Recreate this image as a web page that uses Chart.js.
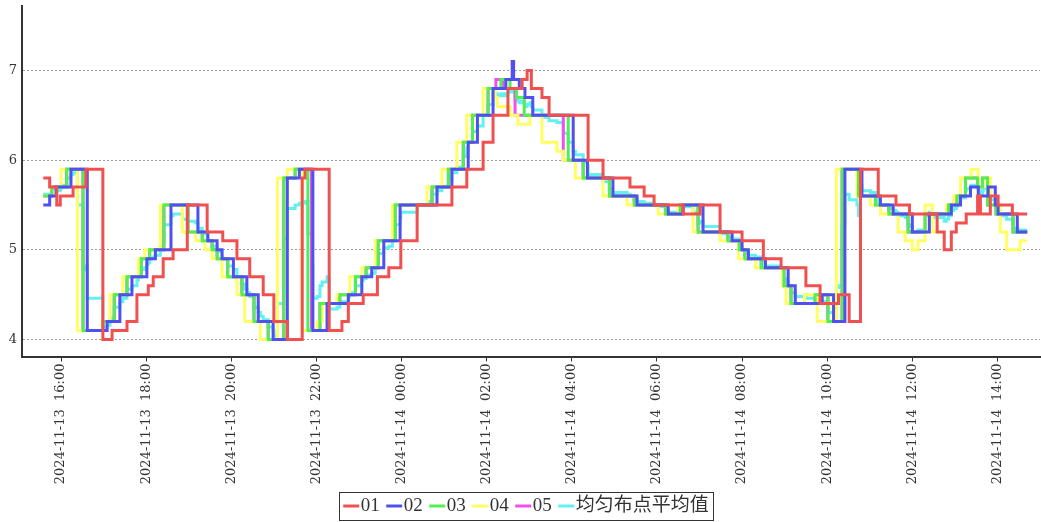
<!DOCTYPE html>
<html>
<head>
<meta charset="utf-8">
<script src="https://cdn.jsdelivr.net/npm/chart.js@4.4.1/dist/chart.umd.min.js"></script>
<style>
  html, body { margin: 0; padding: 0; background: #fff; }
</style>
</head>
<body>
<canvas id="chart" width="1041" height="522"></canvas>
<script>
// readings, [time, value] at each step change; times before 15:00 belong to 2024-11-14
const s01 = [['15:35',5.8],['15:44',5.7],['15:54',5.5],['15:59',5.6],['16:17',5.7],['16:35',5.9],['16:59',4.0],['17:12',4.1],['17:33',4.2],['17:47',4.5],['18:03',4.6],['18:10',4.7],['18:24',4.9],['18:38',5.0],['18:58',5.5],['19:26',5.2],['19:48',5.1],['20:08',4.9],['20:26',4.7],['20:45',4.5],['21:00',4.2],['21:19',4.0],['21:40',5.8],['21:44',5.9],['22:18',4.1],['22:36',4.2],['22:45',4.4],['23:06',4.5],['23:26',4.7],['23:42',4.8],['23:59',5.1],['00:22',5.5],['01:11',5.7],['01:32',5.9],['01:55',6.2],['02:09',6.5],['02:30',6.8],['02:50',6.9],['02:57',7.0],['03:03',6.8],['03:18',6.7],['03:28',6.5],['04:23',6.0],['04:44',5.8],['05:22',5.7],['05:42',5.6],['05:56',5.5],['06:37',5.4],['07:01',5.5],['07:29',5.2],['08:00',5.1],['08:30',4.9],['08:55',4.8],['09:30',4.6],['09:50',4.4],['10:16',4.5],['10:31',4.2],['10:47',5.9],['11:12',5.6],['11:37',5.5],['11:56',5.4],['12:35',5.2],['12:45',5.0],['12:55',5.2],['13:02',5.3],['13:16',5.4],['13:32',5.6],['13:36',5.4],['13:50',5.6],['14:01',5.5],['14:21',5.4],['14:42',5.4]];
const s02 = [['15:35',5.5],['15:44',5.6],['15:53',5.7],['16:14',5.9],['16:37',4.1],['17:05',4.2],['17:23',4.5],['17:40',4.7],['18:01',4.9],['18:13',5.0],['18:35',5.5],['19:13',5.2],['19:27',5.1],['19:40',5.0],['19:47',4.9],['20:03',4.7],['20:22',4.5],['20:38',4.2],['20:59',4.0],['21:19',5.8],['21:36',5.9],['21:55',4.1],['22:15',4.4],['22:45',4.5],['23:04',4.7],['23:18',4.8],['23:35',5.1],['23:58',5.5],['00:50',5.7],['01:11',5.9],['01:34',6.2],['01:47',6.5],['02:09',6.8],['02:27',6.9],['02:36',7.1],['02:38',6.9],['02:46',6.8],['02:54',6.7],['03:05',6.5],['04:02',6.0],['04:22',5.8],['04:58',5.6],['05:32',5.5],['06:16',5.4],['06:37',5.5],['07:05',5.2],['07:46',5.1],['08:00',5.0],['08:09',4.9],['08:33',4.8],['09:05',4.6],['09:15',4.4],['09:53',4.5],['10:09',4.2],['10:25',5.9],['10:49',5.6],['11:15',5.5],['11:33',5.4],['12:00',5.2],['12:24',5.4],['12:55',5.5],['13:08',5.6],['13:22',5.7],['13:33',5.6],['13:47',5.7],['13:57',5.5],['14:01',5.4],['14:28',5.2],['14:42',5.2]];
const s03 = [['15:35',5.6],['15:47',5.7],['16:08',5.9],['16:31',4.1],['16:59',4.2],['17:15',4.5],['17:33',4.7],['17:53',4.9],['18:05',5.0],['18:25',5.5],['18:59',5.2],['19:19',5.1],['19:33',5.0],['19:40',4.9],['19:55',4.7],['20:15',4.5],['20:32',4.2],['20:52',4.0],['21:14',5.8],['21:30',5.9],['21:48',4.1],['22:05',4.4],['22:33',4.5],['22:55',4.7],['23:10',4.8],['23:27',5.1],['23:51',5.5],['00:43',5.7],['01:06',5.9],['01:27',6.2],['01:40',6.5],['02:02',6.8],['02:20',6.9],['02:33',6.8],['02:42',6.7],['02:53',6.5],['03:55',6.0],['04:16',5.8],['04:53',5.6],['05:28',5.5],['06:12',5.4],['06:33',5.5],['06:58',5.2],['07:40',5.1],['07:56',5.0],['08:04',4.9],['08:27',4.8],['08:59',4.6],['09:09',4.4],['09:43',4.5],['10:01',4.2],['10:21',5.9],['10:44',5.6],['11:08',5.5],['11:27',5.4],['11:54',5.2],['12:18',5.4],['12:51',5.5],['13:03',5.6],['13:15',5.8],['13:32',5.7],['13:39',5.8],['13:46',5.5],['13:58',5.4],['14:22',5.2],['14:42',5.2]];
const s04 = [['15:35',5.6],['15:47',5.7],['16:00',5.9],['16:23',4.1],['16:58',4.2],['17:09',4.5],['17:27',4.7],['17:49',4.9],['17:58',5.0],['18:20',5.5],['18:51',5.2],['19:10',5.1],['19:23',5.0],['19:33',4.9],['19:47',4.7],['20:08',4.5],['20:19',4.2],['20:41',4.0],['21:05',5.8],['21:19',5.9],['21:40',4.1],['22:01',4.2],['22:08',4.4],['22:29',4.5],['22:47',4.7],['23:04',4.8],['23:23',5.1],['23:47',5.5],['00:36',5.7],['00:57',5.9],['01:18',6.2],['01:32',6.5],['01:55',6.8],['02:12',6.7],['02:15',6.6],['02:33',6.5],['02:44',6.4],['03:01',6.5],['03:18',6.2],['03:39',6.1],['03:48',6.0],['04:05',5.8],['04:44',5.6],['05:18',5.5],['06:02',5.4],['06:30',5.5],['06:51',5.2],['07:29',5.1],['07:55',4.9],['08:19',4.8],['08:57',4.6],['09:02',4.4],['09:28',4.5],['09:46',4.2],['10:13',5.9],['10:42',5.6],['11:01',5.5],['11:15',5.4],['11:40',5.2],['11:50',5.1],['12:00',5.0],['12:08',5.1],['12:18',5.5],['12:28',5.2],['12:35',5.4],['12:48',5.5],['12:58',5.6],['13:08',5.8],['13:23',5.9],['13:33',5.7],['13:40',5.8],['13:50',5.5],['14:04',5.2],['14:13',5.0],['14:32',5.1],['14:42',5.1]];
const s05 = [['15:35',5.6],['15:47',5.7],['16:08',5.9],['16:31',4.1],['16:59',4.2],['17:15',4.5],['17:33',4.7],['17:53',4.9],['18:05',5.0],['18:25',5.5],['18:59',5.2],['19:19',5.1],['19:33',5.0],['19:40',4.9],['19:55',4.7],['20:15',4.5],['20:32',4.2],['20:52',4.0],['21:14',5.8],['21:30',5.9],['21:53',4.1],['22:05',4.4],['22:33',4.5],['22:55',4.7],['23:10',4.8],['23:27',5.1],['23:51',5.5],['00:43',5.7],['01:06',5.9],['01:27',6.2],['01:40',6.5],['02:02',6.8],['02:13',6.9],['02:23',6.8],['02:40',6.5],['03:48',6.0],['04:16',5.8],['04:53',5.6],['05:28',5.5],['06:12',5.4],['06:33',5.5],['06:58',5.2],['07:40',5.1],['07:56',5.0],['08:04',4.9],['08:27',4.8],['08:59',4.6],['09:09',4.4],['09:43',4.5],['10:01',4.2],['10:21',5.9],['10:44',5.6],['11:08',5.5],['11:27',5.4],['11:54',5.2],['12:18',5.4],['12:51',5.5],['13:03',5.6],['13:15',5.8],['13:32',5.7],['13:39',5.8],['13:46',5.5],['13:58',5.4],['14:22',5.2],['14:42',5.2]];
const sAvg = [['15:35',5.62],['15:47',5.68],['15:53',5.70],['15:54',5.66],['15:59',5.68],['16:00',5.72],['16:08',5.80],['16:14',5.84],['16:17',5.86],['16:23',5.50],['16:31',4.78],['16:35',4.82],['16:37',4.46],['16:58',4.48],['16:59',4.14],['17:05',4.16],['17:09',4.22],['17:12',4.24],['17:15',4.36],['17:23',4.42],['17:27',4.46],['17:33',4.56],['17:40',4.60],['17:47',4.66],['17:49',4.70],['17:53',4.78],['17:58',4.80],['18:01',4.84],['18:03',4.86],['18:05',4.90],['18:10',4.92],['18:13',4.94],['18:20',5.04],['18:24',5.08],['18:25',5.28],['18:35',5.38],['18:38',5.40],['18:51',5.34],['18:58',5.44],['18:59',5.32],['19:10',5.30],['19:13',5.24],['19:19',5.20],['19:23',5.18],['19:26',5.12],['19:27',5.10],['19:33',5.04],['19:40',4.98],['19:47',4.92],['19:48',4.90],['19:55',4.82],['20:03',4.78],['20:08',4.70],['20:15',4.62],['20:19',4.56],['20:22',4.52],['20:26',4.48],['20:32',4.36],['20:38',4.30],['20:41',4.26],['20:45',4.22],['20:52',4.14],['20:59',4.10],['21:00',4.04],['21:05',4.40],['21:14',5.12],['21:19',5.46],['21:30',5.50],['21:36',5.52],['21:44',5.54],['21:48',5.18],['21:53',4.82],['21:55',4.46],['22:01',4.48],['22:05',4.60],['22:08',4.64],['22:15',4.70],['22:18',4.34],['22:29',4.36],['22:33',4.40],['22:36',4.42],['22:45',4.48],['22:47',4.52],['22:55',4.60],['23:04',4.66],['23:06',4.68],['23:10',4.72],['23:18',4.74],['23:23',4.80],['23:26',4.84],['23:27',4.96],['23:35',5.02],['23:42',5.04],['23:47',5.12],['23:51',5.28],['23:58',5.36],['23:59',5.42],['00:22',5.50],['00:36',5.54],['00:43',5.62],['00:50',5.66],['00:57',5.70],['01:06',5.78],['01:11',5.86],['01:18',5.92],['01:27',6.04],['01:32',6.14],['01:34',6.20],['01:40',6.32],['01:47',6.38],['01:55',6.50],['02:02',6.62],['02:09',6.74],['02:12',6.72],['02:13',6.74],['02:15',6.72],['02:20',6.74],['02:23',6.72],['02:27',6.74],['02:30',6.80],['02:33',6.76],['02:36',6.80],['02:38',6.76],['02:40',6.70],['02:42',6.68],['02:44',6.66],['02:46',6.64],['02:50',6.66],['02:53',6.62],['02:54',6.60],['02:57',6.62],['03:01',6.64],['03:03',6.60],['03:05',6.56],['03:18',6.48],['03:28',6.44],['03:39',6.42],['03:48',6.30],['03:55',6.20],['04:02',6.10],['04:05',6.06],['04:16',5.98],['04:22',5.94],['04:23',5.84],['04:44',5.76],['04:53',5.68],['04:58',5.64],['05:18',5.62],['05:22',5.60],['05:28',5.56],['05:32',5.54],['05:42',5.52],['05:56',5.50],['06:02',5.48],['06:12',5.44],['06:16',5.42],['06:30',5.44],['06:33',5.48],['06:51',5.42],['06:58',5.30],['07:01',5.32],['07:05',5.26],['07:29',5.18],['07:40',5.14],['07:46',5.12],['07:55',5.08],['07:56',5.04],['08:00',5.00],['08:04',4.96],['08:09',4.94],['08:19',4.92],['08:27',4.88],['08:30',4.84],['08:33',4.82],['08:55',4.80],['08:57',4.76],['08:59',4.68],['09:02',4.64],['09:05',4.60],['09:09',4.52],['09:15',4.48],['09:28',4.50],['09:30',4.46],['09:43',4.50],['09:46',4.44],['09:50',4.40],['09:53',4.42],['10:01',4.30],['10:09',4.24],['10:13',4.58],['10:16',4.60],['10:21',5.28],['10:25',5.62],['10:31',5.56],['10:42',5.50],['10:44',5.38],['10:47',5.72],['10:49',5.66],['11:01',5.64],['11:08',5.60],['11:12',5.54],['11:15',5.50],['11:27',5.46],['11:33',5.44],['11:37',5.42],['11:40',5.38],['11:50',5.36],['11:54',5.28],['11:56',5.26],['12:00',5.20],['12:08',5.22],['12:18',5.38],['12:24',5.42],['12:28',5.36],['12:45',5.32],['12:48',5.34],['12:51',5.38],['12:55',5.44],['12:58',5.46],['13:02',5.48],['13:03',5.52],['13:08',5.58],['13:15',5.66],['13:16',5.68],['13:22',5.70],['13:23',5.72],['13:33',5.66],['13:36',5.62],['13:39',5.66],['13:40',5.68],['13:46',5.56],['13:47',5.58],['13:50',5.56],['13:57',5.52],['13:58',5.48],['14:01',5.44],['14:04',5.38],['14:13',5.34],['14:21',5.32],['14:22',5.24],['14:28',5.20],['14:32',5.22],['14:42',5.22]];

const seriesNames = ['01', '02', '03', '04', '05', '均匀布点平均值'];
const seriesData = [s01, s02, s03, s04, s05, sAvg];
const seriesColors = ['#f05050', '#5050f0', '#50f050', '#ffff64', '#f050f0', '#64f0f0'];

const xTicks = ['16:00', '18:00', '20:00', '22:00', '00:00', '02:00', '04:00', '06:00', '08:00', '10:00', '12:00', '14:00'];
const yTicks = [4, 5, 6, 7];

// x axis: minutes since 2024-11-13 00:00
const X_MIN = 15 * 60 + 5;
const X_MAX = 24 * 60 + 15 * 60;

function toMin(s) {
    const [h, m] = s.split(':').map(Number);
    return (h < 15 ? 1440 : 0) + h * 60 + m;
}

function tickLabel(v) {
    const day = v >= 1440 ? '14' : '13';
    const m = v % 1440;
    const hh = String(Math.floor(m / 60)).padStart(2, '0');
    const mm = String(m % 60).padStart(2, '0');
    return '2024-11-' + day + '  ' + hh + ':' + mm;
}

// short line used as the legend marker
function swatch(color) {
    const c = document.createElement('canvas');
    c.width = 28;
    c.height = 6;
    const g = c.getContext('2d');
    g.strokeStyle = color;
    g.lineWidth = 3;
    g.beginPath();
    g.moveTo(9, 3);
    g.lineTo(25, 3);
    g.stroke();
    return c;
}

const legendBox = {
    id: 'legendBox',
    afterLayout(chart) {
        // legend sits a little right of centre in the original
        chart.legend.left += 7;
        chart.legend.right += 7;
    },
    afterDraw(chart) {
        const boxes = chart.legend.legendHitBoxes;
        if (!boxes || !boxes.length) return;
        const last = boxes[boxes.length - 1];
        const left = boxes[0].left - 6;
        const right = last.left + last.width + 4;
        const top = boxes[0].top - 5;
        const c = chart.ctx;
        c.save();
        c.strokeStyle = '#333';
        c.lineWidth = 1;
        c.strokeRect(Math.round(left) + 0.5, Math.round(top) + 0.5, Math.round(right - left), 28);
        c.restore();
    }
};

const datasets = seriesData.map((s, i) => ({
    label: seriesNames[i],
    data: s.map(p => ({ x: toMin(p[0]), y: p[1] })),
    borderColor: seriesColors[i],
    backgroundColor: seriesColors[i],
    borderWidth: 3,
    stepped: true,
    fill: false,
    pointRadius: 0,
    pointHoverRadius: 0,
    pointStyle: swatch(seriesColors[i])
}));

new Chart(document.getElementById('chart').getContext('2d'), {
    type: 'line',
    data: { datasets: datasets },
    options: {
        responsive: false,
        animation: false,
        layout: { padding: { top: 6, right: 1, left: 0, bottom: -3.5 } },
        plugins: {
            tooltip: { enabled: false },
            legend: {
                position: 'bottom',
                labels: {
                    usePointStyle: true,
                    pointStyleWidth: 6,
                    boxHeight: 6,
                    padding: 8.5,
                    color: '#333',
                    font: { family: "'Liberation Serif', 'Noto Sans CJK SC', serif", size: 19 }
                }
            }
        },
        scales: {
            x: {
                type: 'linear',
                min: X_MIN,
                max: X_MAX,
                afterBuildTicks: axis => {
                    axis.ticks = xTicks.map(t => ({ value: toMin(t) }));
                },
                afterFit: axis => {
                    axis.height = 131.5;
                    axis.paddingLeft = 0;
                    axis.paddingRight = 0;
                },
                ticks: {
                    autoSkip: false,
                    minRotation: 90,
                    maxRotation: 90,
                    padding: 2,
                    color: '#333',
                    font: { family: 'DejaVu Serif', size: 13 },
                    callback: v => tickLabel(v)
                },
                grid: { drawOnChartArea: false, drawTicks: true, tickLength: 5, color: '#333' },
                border: { color: '#333', width: 2 }
            },
            y: {
                min: 3.81,
                max: 7.72,
                afterBuildTicks: axis => {
                    axis.ticks = yTicks.map(v => ({ value: v }));
                },
                afterFit: axis => {
                    axis.width = 22;
                    axis.paddingTop = 0;
                    axis.paddingBottom = 0;
                },
                ticks: {
                    padding: 5,
                    color: '#333',
                    font: { family: 'DejaVu Serif', size: 13 }
                },
                grid: { color: '#9a9a9a', lineWidth: 1, drawTicks: false },
                border: { color: '#333', width: 2, dash: [2, 2] }
            }
        }
    },
    plugins: [legendBox]
});
</script>
</body>
</html>
